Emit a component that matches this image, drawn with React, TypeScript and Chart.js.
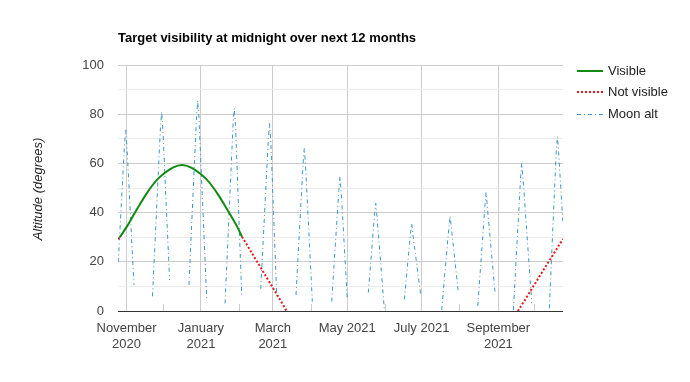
import React, { useEffect, useRef } from 'react';
import { Chart, registerables } from 'chart.js';

Chart.register(...registerables);

// ---- text ----
const chartTitle = 'Target visibility at midnight over next 12 months';
const yAxisTitle = 'Altitude (degrees)';
const seriesNames = ['Visible', 'Not visible', 'Moon alt'];

// ---- x axis (days since 25 Oct 2020) ----
const xMin = 0;
const xMax = 365;
const majorTickDays = [7, 68, 127, 188, 249, 312];
const majorTickLabels: (string | string[])[] = [
  ['November', '2020'],
  ['January', '2021'],
  ['March', '2021'],
  'May 2021',
  'July 2021',
  ['September', '2021'],
];
const minorTickDays = [37, 99, 158, 219, 280, 341];

// ---- y axis ----
const yMin = 0;
const yMax = 100;
const yStep = 10;
const yLabelEvery = 20;

// ---- target altitude ----
const targetDays = [0, 1.5, 7.5, 12.5, 17.5, 22.5, 27.5, 32.5, 37.5, 45, 52.5, 60, 67.5, 72.5, 77.5, 82.5, 87.5, 92.5, 97.5, 101.7, 110, 120, 130, 138.4, 230, 328, 335, 345, 355, 365];
const visibleAlt = [null, 30.0, 34.5, 38.8, 43.0, 47.0, 50.6, 53.6, 55.8, 58.3, 59.3, 58.3, 55.8, 53.6, 50.6, 47.0, 43.0, 38.8, 34.5, 30.2, null, null, null, null, null, null, null, null, null, null];
const notVisibleAlt = [29.2, 30.0, null, null, null, null, null, null, null, null, null, null, null, null, null, null, null, null, null, 30.2, 23.4, 15.2, 7.0, 0, null, 0, 5.5, 13.5, 21.4, 29.3];

// ---- moon altitude ----
const moonDays = [
  0.2, 5.3, 6.3, 7.3, 13.1, 20,
  28.3, 34.8, 35.8, 36.8, 42.3, 50,
  58.2, 64.4, 65.4, 66.4, 72.8, 80,
  87.8, 94.4, 95.4, 96.4, 101.5, 109,
  117.1, 123.3, 124.3, 125.3, 130.2, 138,
  146.0, 151.8, 152.8, 153.8, 159.4, 167,
  175.3, 181.1, 182.1, 183.1, 188.1, 196,
  205.3, 210.4, 211.4, 212.4, 218.5, 226,
  234.9, 239.9, 240.9, 241.9, 248.3, 257,
  265.5, 271.4, 272.4, 273.4, 279.2, 287,
  295.1, 300.9, 301.9, 302.9, 309.3, 316,
  324.3, 330.2, 331.2, 332.2, 339.4, 346,
  353.8, 359.4, 360.4, 361.4, 365,
];
const moonAlt = [
  19.8, 67.5, 73.6, 67.2, 10.6, null,
  6.0, 74.5, 81.0, 74.0, 12.6, null,
  10.6, 79.0, 85.5, 78.5, 4.7, null,
  3.1, 76.0, 82.4, 75.5, 6.2, null,
  9.0, 70.0, 76.2, 69.5, 5.8, null,
  6.5, 60.0, 66.1, 59.5, 3.8, null,
  3.8, 49.0, 54.6, 48.5, 4.5, null,
  7.5, 39.0, 43.8, 38.5, 0.4, null,
  4.7, 31.5, 35.6, 31.0, 6.5, null,
  0.4, 34.0, 38.6, 34.0, 7.2, null,
  2.0, 42.5, 48.1, 42.5, 7.2, null,
  0.4, 54.0, 60.0, 54.0, 3.1, null,
  1.1, 64.5, 70.9, 64.5, 35.6,
];

const FONT = 'Arial, "Liberation Sans", sans-serif';

export default function App() {
  const ref = useRef<HTMLCanvasElement>(null);

  useEffect(() => {
    const canvas = ref.current;
    if (!canvas) return;

    const toPoints = (xs: number[], ys: (number | null)[]) => xs.map((x, i) => ({ x, y: ys[i] }));

    const decor = {
      id: 'decor',
      beforeDatasetsDraw(chart: any) {
        const { ctx, chartArea, scales } = chart;
        ctx.save();
        ctx.strokeStyle = '#cccccc';
        ctx.lineWidth = 1;
        minorTickDays.forEach((d) => {
          const x = Math.round(scales.x.getPixelForValue(d)) + 0.5;
          ctx.beginPath();
          ctx.moveTo(x, chartArea.bottom);
          ctx.lineTo(x, chartArea.bottom - 7);
          ctx.stroke();
        });
        ctx.restore();
      },
      afterDraw(chart: any) {
        const { ctx } = chart;
        ctx.save();
        // title
        ctx.fillStyle = '#000000';
        ctx.font = `bold 13px ${FONT}`;
        ctx.textAlign = 'left';
        ctx.textBaseline = 'middle';
        ctx.fillText(chartTitle, 118, 38);
        // y title
        ctx.save();
        ctx.translate(38, 189);
        ctx.rotate(-Math.PI / 2);
        ctx.font = `italic 13px ${FONT}`;
        ctx.fillStyle = '#222222';
        ctx.textAlign = 'center';
        ctx.textBaseline = 'middle';
        ctx.fillText(yAxisTitle, 0, 0);
        ctx.restore();
        // legend
        const rows = [71, 92, 114];
        chart.data.datasets.forEach((ds: any, i: number) => {
          const y = rows[i];
          ctx.save();
          ctx.strokeStyle = ds.borderColor;
          ctx.lineWidth = ds.borderWidth;
          ctx.setLineDash(ds.borderDash || []);
          ctx.beginPath();
          const yy = ds.borderWidth % 2 === 1 ? y + 0.5 : y;
          ctx.moveTo(577, yy);
          ctx.lineTo(603, yy);
          ctx.stroke();
          ctx.restore();
          ctx.fillStyle = '#222222';
          ctx.font = `13px ${FONT}`;
          ctx.textAlign = 'left';
          ctx.textBaseline = 'middle';
          ctx.fillText(ds.label, 608, y);
        });
        ctx.restore();
      },
    };

    const chart = new Chart(canvas, {
      type: 'line',
      data: {
        datasets: [
          {
            label: seriesNames[0],
            data: toPoints(targetDays, visibleAlt),
            borderColor: '#128a12',
            borderWidth: 2,
            pointRadius: 0,
            cubicInterpolationMode: 'monotone',
            spanGaps: false,
            fill: false,
          },
          {
            label: seriesNames[1],
            data: toPoints(targetDays, notVisibleAlt),
            borderColor: '#e81818',
            borderWidth: 2,
            borderDash: [2, 2],
            pointRadius: 0,
            tension: 0,
            spanGaps: false,
            fill: false,
          },
          {
            label: seriesNames[2],
            data: toPoints(moonDays, moonAlt),
            borderColor: '#3d96c2',
            borderWidth: 1,
            borderDash: [4, 3, 1, 3],
            pointRadius: 0,
            tension: 0,
            spanGaps: false,
            fill: false,
          },
        ],
      } as any,
      options: {
        responsive: false,
        animation: false,
        events: [],
        layout: { padding: { left: 0, top: 65, right: 127, bottom: 0 } },
        plugins: {
          legend: { display: false },
          title: { display: false },
          tooltip: { enabled: false },
        },
        scales: {
          x: {
            type: 'linear',
            min: xMin,
            max: xMax,
            afterBuildTicks: (scale: any) => {
              scale.ticks = majorTickDays.map((v) => ({ value: v }));
            },
            afterFit: (scale: any) => {
              scale.height = 382 - 311;
            },
            border: { display: false },
            grid: { color: '#cccccc', drawTicks: false, lineWidth: 1 },
            ticks: {
              autoSkip: false,
              maxRotation: 0,
              minRotation: 0,
              padding: 10,
              color: '#444444',
              font: { family: FONT, size: 13, lineHeight: 1.2 },
              callback: (value: any) => {
                const i = majorTickDays.indexOf(Number(value));
                return i >= 0 ? majorTickLabels[i] : '';
              },
            },
          },
          y: {
            type: 'linear',
            min: yMin,
            max: yMax,
            afterFit: (scale: any) => {
              scale.width = 118;
            },
            border: { display: false },
            grid: {
              drawTicks: false,
              lineWidth: 1,
              color: (c: any) => {
                const v = c.tick ? c.tick.value : 0;
                if (v === 0) return '#333333';
                return v % yLabelEvery === 0 ? '#cccccc' : '#ebebeb';
              },
            },
            ticks: {
              stepSize: yStep,
              padding: 14,
              color: '#444444',
              font: { family: FONT, size: 13 },
              callback: (value: any) => (Number(value) % yLabelEvery === 0 ? String(value) : ''),
            },
          },
        },
      } as any,
      plugins: [decor],
    });

    return () => chart.destroy();
  }, []);

  return (
    <canvas
      ref={ref}
      width={690}
      height={382}
      style={{ position: 'absolute', left: 0, top: 0, display: 'block', width: 690, height: 382 }}
    />
  );
}
